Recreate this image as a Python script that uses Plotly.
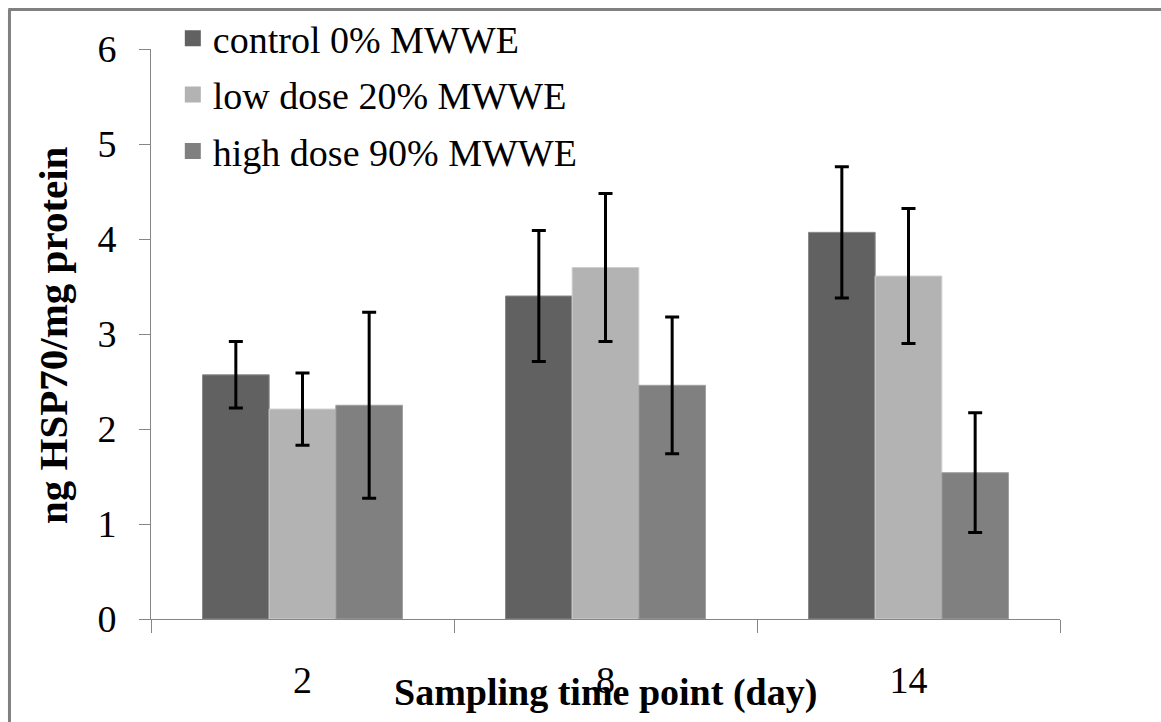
import plotly.graph_objects as go

days = ["2", "8", "14"]
series_names = ["control 0% MWWE", "low dose 20% MWWE", "high dose 90% MWWE"]
control = [2.57, 3.40, 4.07]
control_err = [0.35, 0.69, 0.69]
low = [2.21, 3.70, 3.61]
low_err = [0.38, 0.78, 0.71]
high = [2.25, 2.46, 1.54]
high_err = [0.98, 0.72, 0.63]

colors = ["#616161", "#b3b3b3", "#808080"]
edges = ["#8a8a8a", "#cfcfcf", "#a0a0a0"]
FONT = "Liberation Serif"

fig = go.Figure()
for name, vals, errs, col, edge in zip(series_names, [control, low, high],
                                      [control_err, low_err, high_err], colors, edges):
    fig.add_trace(go.Bar(
        x=days, y=vals, name=name, showlegend=False,
        marker=dict(color=col, line=dict(color=edge, width=1)),
        error_y=dict(type="data", array=errs, visible=True, color="black",
                     thickness=3, width=7),
    ))
# legend entries (square swatches)
for i, (name, col) in enumerate(zip(series_names, colors)):
    fig.add_trace(go.Scatter(
        x=[None], y=[None], mode="markers", name=name, legendgroup=f"g{i}",
        marker=dict(symbol="square", size=16, color=col, line=dict(width=0)),
        showlegend=True,
    ))

fig.update_layout(
    width=1161, height=722,
    margin=dict(l=151, r=101, t=49, b=103, autoexpand=False),
    paper_bgcolor="white", plot_bgcolor="white",
    barmode="group", bargap=0.34, bargroupgap=0,
    font=dict(family=FONT, color="black", size=38),
    legend=dict(x=0.024, y=1.0737, xanchor="left", yanchor="top",
                bgcolor="rgba(0,0,0,0)", font=dict(family=FONT, size=38),
                tracegroupgap=4, itemsizing="trace"),
    xaxis=dict(type="category", showline=True, linecolor="#868686", linewidth=1,
               ticks="outside", tickson="boundaries", ticklen=13, tickcolor="#868686",
               tickfont=dict(family=FONT, size=38), showgrid=False,
               ticklabelstandoff=27),
    yaxis=dict(range=[0, 6], dtick=1, showline=True, linecolor="#868686", linewidth=1,
               ticks="outside", ticklen=11, tickcolor="#868686", showgrid=False,
               zeroline=False, tickfont=dict(family=FONT, size=38),
               ticklabelstandoff=15),
    annotations=[
        dict(text="<b>Sampling time point (day)</b>", xref="paper", yref="paper",
             x=0.5, y=-0.129, xanchor="center", yanchor="middle", showarrow=False,
             font=dict(family=FONT, size=38)),
        dict(text="<b>ng HSP70/mg protein</b>", xref="paper", yref="paper",
             x=-0.108, y=0.498, xanchor="center", yanchor="middle", showarrow=False,
             textangle=-90, font=dict(family=FONT, size=41)),
    ],
    shapes=[
        dict(type="line", xref="paper", yref="paper", x0=-0.157, x1=1.2,
             y0=1.0693, y1=1.0693, line=dict(color="#808080", width=3)),
        dict(type="line", xref="paper", yref="paper", x0=-0.1557, x1=-0.1557,
             y0=1.0693, y1=-0.25, line=dict(color="#808080", width=3)),
    ],
)

fig.write_html("out.html")
